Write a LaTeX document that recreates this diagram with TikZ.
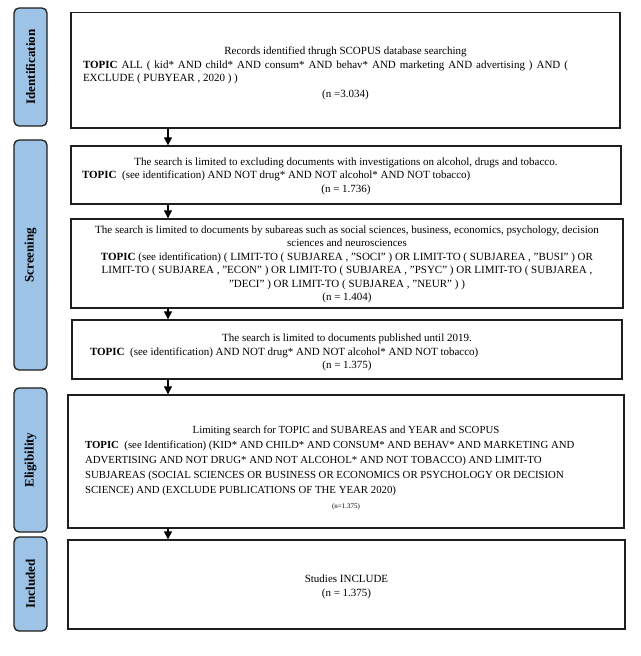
\documentclass[tikz,border=0pt]{standalone}
\usepackage{fontspec}
\setmainfont{Liberation Serif}
\usetikzlibrary{arrows.meta}
\definecolor{labblue}{HTML}{9DC3E6}
\definecolor{edge}{HTML}{1E1E1E}
\tikzset{
  box/.style={draw=edge, line width=1.3pt, fill=white, inner sep=0pt},
  txt/.style={align=center, inner sep=0pt, font=\fontsize{11}{13.5}\selectfont},
  lab/.style={draw=edge, line width=1.3pt, fill=labblue, rounded corners=5pt, rotate=90,
    minimum height=33pt, inner sep=0pt, font=\fontsize{13}{15}\selectfont\bfseries},
  arr/.style={draw=black, line width=1.2pt, -{Triangle[length=8pt,width=8pt]}}
}
\begin{document}
\begin{tikzpicture}[x=1pt,y=-1pt]
\useasboundingbox (0,0) rectangle (640,656);
% side labels
\node[lab, minimum width=118pt] (lid) at (30.5,67) {Identification};
\node[lab, minimum width=230pt] (lsc) at (30.5,255) {Screening};
\node[lab, minimum width=144pt] (lel) at (30.5,460) {Eligibility};
\node[lab, minimum width=94pt] (lin) at (30.5,584) {Included};
% boxes
\node[box, minimum width=549pt, minimum height=115.5pt] (b1) at (345.5,70.25) {};
\node[box, minimum width=550pt, minimum height=58pt] (b2) at (346,175) {};
\node[box, minimum width=552pt, minimum height=89pt] (b3) at (347,263.5) {};
\node[box, minimum width=550pt, minimum height=59pt] (b4) at (347,349.5) {};
\node[box, minimum width=556pt, minimum height=133pt] (b5) at (346,461.5) {};
\node[box, minimum width=557pt, minimum height=89pt] (b6) at (346.5,584.5) {};
% texts
\node[txt] (t1) at (345.5,73.5) {Records identified thrugh SCOPUS database searching\\
\makebox[525pt][l]{\makebox[485pt][s]{\textbf{TOPIC} ALL ( kid* AND child* AND consum* AND behav* AND marketing AND advertising ) AND (}}\\
\makebox[525pt][l]{EXCLUDE ( PUBYEAR , 2020 ) )}\\[2pt]
(n =3.034)};
\node[txt] (t2) at (346,176) {The search is limited to excluding documents with investigations on alcohol, drugs and tobacco.\\
\makebox[528pt][l]{\textbf{TOPIC}\ \ (see identification) AND NOT drug* AND NOT alcohol* AND NOT tobacco)}\\
(n = 1.736)};
\node[txt] (t3) at (347,264.5) {The search is limited to documents by subareas such as social sciences, business, economics, psychology, decision\\
sciences and neurosciences\\
\textbf{TOPIC} (see identification) ( LIMIT-TO ( SUBJAREA , "SOCI" ) OR LIMIT-TO ( SUBJAREA , "BUSI" ) OR\\
LIMIT-TO ( SUBJAREA , "ECON" ) OR LIMIT-TO ( SUBJAREA , "PSYC" ) OR LIMIT-TO ( SUBJAREA ,\\
"DECI" ) OR LIMIT-TO ( SUBJAREA , "NEUR" ) )\\
(n = 1.404)};
\node[txt] (t4) at (347,352.5) {The search is limited to documents published until 2019.\\
\makebox[514pt][l]{\textbf{TOPIC}\ \ (see identification) AND NOT drug* AND NOT alcohol* AND NOT tobacco)}\\
(n = 1.375)};
\node[txt, font=\fontsize{10.8}{15}\selectfont] (t5) at (346,468) {Limiting search for TOPIC and SUBAREAS and YEAR and SCOPUS\\
\makebox[522pt][l]{\textbf{TOPIC}\ \ (see Identification) (KID* AND CHILD* AND CONSUM* AND BEHAV* AND MARKETING AND}\\
\makebox[522pt][l]{ADVERTISING AND NOT DRUG* AND NOT ALCOHOL* AND NOT TOBACCO) AND LIMIT-TO}\\
\makebox[522pt][l]{SUBJAREAS (SOCIAL SCIENCES OR BUSINESS OR ECONOMICS OR PSYCHOLOGY OR DECISION}\\
\makebox[522pt][l]{SCIENCE) AND (EXCLUDE PUBLICATIONS OF THE YEAR 2020)}\\
{\fontsize{7}{9}\selectfont (n=1.375)}};
\node[txt, font=\fontsize{11}{14}\selectfont] (t6) at (346.5,587) {Studies INCLUDE\\(n = 1.375)};
% arrows
\coordinate (ax) at (168,0);
\draw[arr] (b1.south -| ax) -- (b2.north -| ax);
\draw[arr] (b2.south -| ax) -- (b3.north -| ax);
\draw[arr] (b3.south -| ax) -- (b4.north -| ax);
\draw[arr] (b4.south -| ax) -- (b5.north -| ax);
\draw[arr] (b5.south -| ax) -- (b6.north -| ax);
\end{tikzpicture}
\end{document}
